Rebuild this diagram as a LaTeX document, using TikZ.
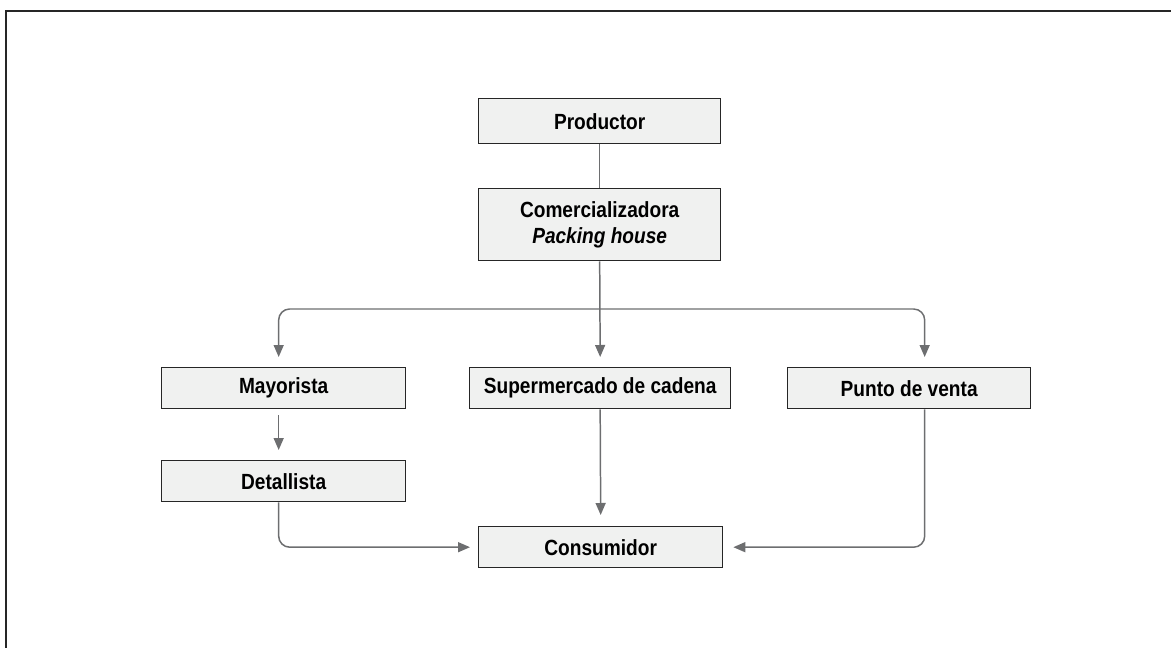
\documentclass[tikz,border=0pt]{standalone}
\usepackage{fontspec}
\setmainfont[FakeStretch=0.87]{Liberation Sans}
\usepackage{xcolor}
\usepackage{tikz}
\usetikzlibrary{arrows.meta,calc,positioning}

\definecolor{boxfill}{HTML}{F0F1F0}
\definecolor{linegray}{HTML}{6D6E70}

\tikzset{
  box/.style={draw=black!85, line width=0.8pt, fill=boxfill, inner sep=0pt,
    font=\fontsize{12.5}{14.8}\selectfont\bfseries, align=center},
  flow/.style={draw=linegray, line width=0.85pt},
  arrow/.style={flow, rounded corners=0.22cm,
    -{Triangle[length=0.24cm, width=0.2cm]}}
}

\begin{document}
\begin{tikzpicture}[x=0.02cm, y=-0.02cm]
\useasboundingbox (0,0) rectangle (1171,648);

% frame
\draw[black!85, line width=1.2pt] (6,648) -- (6,11) -- (1171,11);

\coordinate(O1) at (478,98);
\node[below right=0cm of O1, box, minimum width=4.84cm, minimum height=0.9cm](prod) {Productor};

\coordinate(O1) at (478,188);
\node[below right=0cm of O1, box, minimum width=4.84cm, minimum height=1.44cm](comer) {Comercializadora\\\textit{Packing house}};

\coordinate(O1) at (161,367);
\node[below right=0cm of O1, box, minimum width=4.88cm, minimum height=0.82cm](may) {Mayorista};

\coordinate(O1) at (469,367);
\node[below right=0cm of O1, box, minimum width=5.22cm, minimum height=0.82cm](super) {Supermercado de cadena};

\coordinate(O1) at (787,367);
\node[below right=0cm of O1, box, minimum width=4.86cm, minimum height=0.82cm](punto) {Punto de venta};

\coordinate(O1) at (161,460);
\node[below right=0cm of O1, box, minimum width=4.88cm, minimum height=0.82cm](det) {Detallista};

\coordinate(O1) at (478,526);
\node[below right=0cm of O1, box, minimum width=4.88cm, minimum height=0.82cm](cons) {Consumidor};

\coordinate(split) at (599,309);

\draw[flow] (prod) -- (comer);
\draw[arrow] (comer.south) -- ([yshift=0.2cm]super.north);
\draw[arrow] (split) -| ([xshift=-0.1cm, yshift=0.2cm]may.north);
\draw[arrow] (split) -| ([xshift=0.31cm, yshift=0.2cm]punto.north);
\draw[arrow] ([xshift=-0.1cm, yshift=-0.12cm]may.south) -- ([xshift=-0.1cm, yshift=0.2cm]det.north);
\draw[arrow] ([xshift=-0.1cm]det.south) |- ([xshift=-0.16cm]cons.west);
\draw[arrow] (super.south) -- ([yshift=0.22cm]cons.north);
\draw[arrow] ([xshift=0.31cm]punto.south) |- ([xshift=0.2cm]cons.east);
\end{tikzpicture}
\end{document}
